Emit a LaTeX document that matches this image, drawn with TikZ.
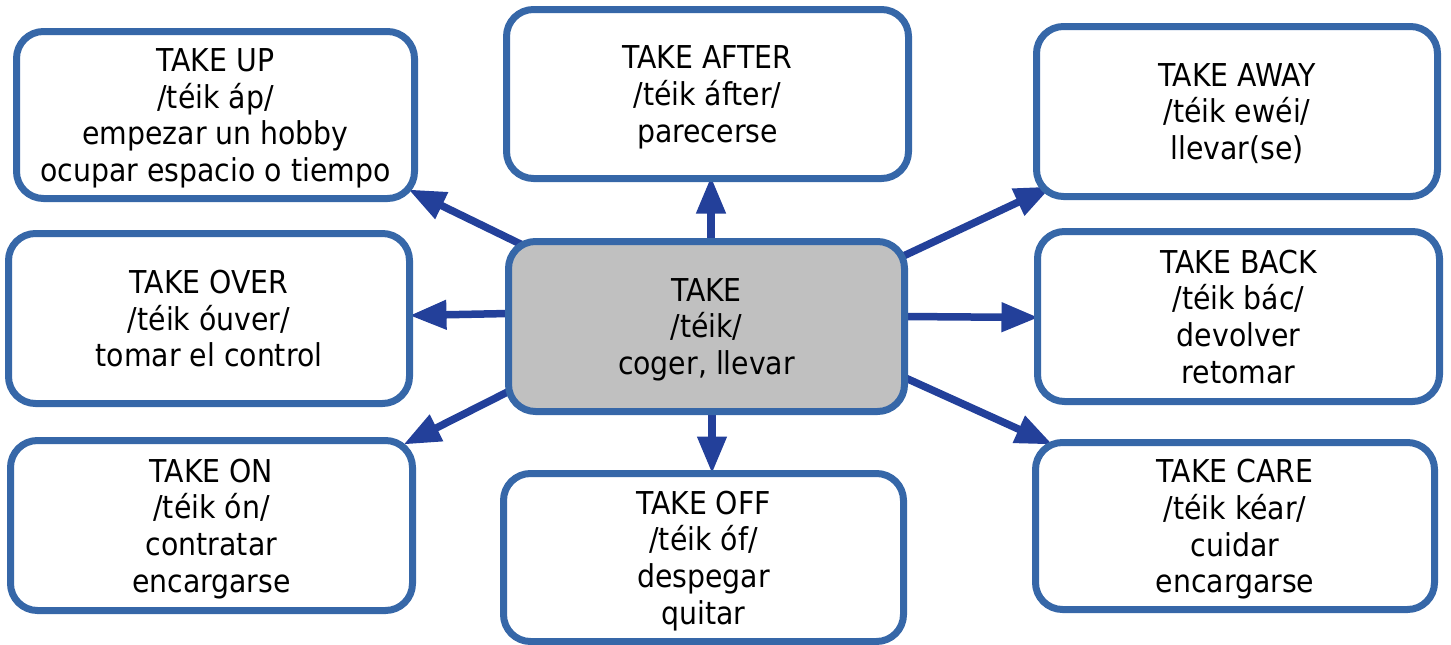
\documentclass[tikz,border=0pt]{standalone}
\usepackage{fontspec}
\setmainfont{DejaVu Sans Condensed}
\usetikzlibrary{arrows.meta,calc,backgrounds}
\definecolor{boxline}{RGB}{54,103,168}
\definecolor{arrowblue}{RGB}{35,64,154}
\definecolor{centergray}{RGB}{192,192,192}
\begin{document}
\begin{tikzpicture}[x=1pt,y=-1pt,
  card/.style={draw=boxline, line width=7pt, rounded corners=27pt, fill=white,
    align=center, inner sep=0pt, outer sep=0pt, text depth=0pt,
    font=\fontsize{31.5}{36.7}\selectfont},
  link/.style={draw=arrowblue, line width=7.5pt,
    -{Triangle[length=37pt,width=28pt]}}]
\useasboundingbox (0,0) rectangle (1451,645);
\node[card, minimum width=398pt, minimum height=167pt] (up) at (215.5,115) {TAKE UP\\/téik áp/\\empezar un hobby\\ocupar espacio o tiempo};
\node[card, minimum width=402pt, minimum height=169pt] (after) at (707.5,94) {TAKE AFTER\\/téik áfter/\\parecerse};
\node[card, minimum width=401pt, minimum height=170pt] (away) at (1237,111.5) {TAKE AWAY\\/téik ewéi/\\llevar(se)};
\node[card, minimum width=401pt, minimum height=170pt] (over) at (209,318.5) {TAKE OVER\\/téik óuver/\\tomar el control};
\node[card, fill=centergray, minimum width=396pt, minimum height=170pt] (take) at (706.5,326.5) {TAKE\\/téik/\\coger, llevar};
\node[card, minimum width=402pt, minimum height=170pt] (back) at (1238.5,316.5) {TAKE BACK\\/téik bác/\\devolver\\retomar};
\node[card, minimum width=402pt, minimum height=170pt] (on) at (211.5,525.5) {TAKE ON\\/téik ón/\\contratar\\encargarse};
\node[card, minimum width=400pt, minimum height=168pt] (off) at (703.5,557.5) {TAKE OFF\\/téik óf/\\despegar\\quitar};
\node[card, minimum width=399pt, minimum height=167pt] (care) at (1235,526) {TAKE CARE\\/téik kéar/\\cuidar\\encargarse};
\begin{scope}[on background layer]
\draw[link] ($(take.north west)+(15,4)$) -- ($(up.south east)+(-6,-9)$);
\draw[link] ($(take.north)+(4.5,0)$) -- ($(after.south)+(3.5,-2)$);
\draw[link] ($(take.north east)+(0,14)$) -- ($(away.south west)+(15,-10)$);
\draw[link] ($(take.west)+(0,-13)$) -- ($(over.east)+(0,-3)$);
\draw[link] ($(take.east)+(0,-10)$) -- ($(back.west)+(1,1)$);
\draw[link] ($(take.south west)+(0,-20)$) -- ($(on.north east)+(-9,4)$);
\draw[link] ($(take.south)+(5.5,0)$) -- ($(off.north)+(8.5,0)$);
\draw[link] ($(take.south east)+(0,-34)$) -- ($(care.north west)+(17,2)$);
\end{scope}
\end{tikzpicture}
\end{document}
